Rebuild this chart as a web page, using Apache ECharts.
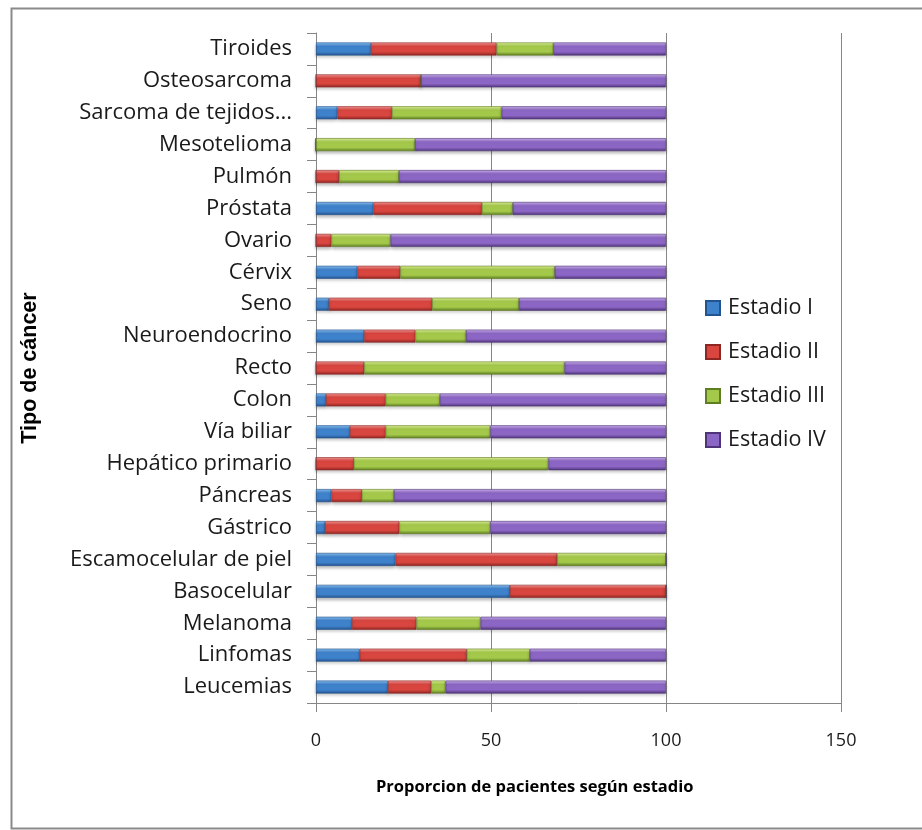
<!DOCTYPE html>
<html>
<head>
<meta charset="utf-8">
<script src="https://cdn.jsdelivr.net/npm/echarts@6/dist/echarts.min.js"></script>
<style>
  html, body { margin: 0; padding: 0; background: #fff; }
  #chart { width: 922px; height: 830px; }
</style>
</head>
<body>
<div id="chart"></div>
<script>
// Cancer types, listed bottom to top
const categories = [
  'Leucemias', 'Linfomas', 'Melanoma', 'Basocelular', 'Escamocelular de piel',
  'Gástrico', 'Páncreas', 'Hepático primario', 'Vía biliar', 'Colon', 'Recto',
  'Neuroendocrino', 'Seno', 'Cérvix', 'Ovario', 'Próstata', 'Pulmón',
  'Mesotelioma', 'Sarcoma de tejidos blandos', 'Osteosarcoma', 'Tiroides'
];

// Percentage of patients in each stage
const estadioI   = [20.6, 12.5, 10.3, 55.4, 22.7, 2.6, 4.4, 0, 9.7, 2.9, 0, 13.8, 3.7, 11.8, 0, 16.4, 0, 0, 6.1, 0, 15.7];
const estadioII  = [12.3, 30.6, 18.4, 44.6, 46.2, 21.2, 8.7, 10.8, 10.2, 17.0, 13.8, 14.6, 29.5, 12.3, 4.4, 31.0, 6.6, 0, 15.6, 30, 35.9];
const estadioIII = [4.1, 18.0, 18.3, 0, 31.1, 26.0, 9.2, 55.6, 29.9, 15.5, 57.2, 14.5, 24.8, 44.1, 16.9, 8.8, 17.1, 28.3, 31.3, 0, 16.2];
const estadioIV  = [63.0, 38.9, 53.0, 0, 0, 50.2, 77.7, 33.6, 50.2, 64.6, 29.0, 57.1, 42.0, 31.8, 78.7, 43.8, 76.3, 71.7, 47.0, 70, 32.2];

const seriesNames = ['Estadio I', 'Estadio II', 'Estadio III', 'Estadio IV'];
const xTicks = [0, 50, 100, 150];

const FONT = '"Open Sans", Lato, sans-serif';

// Bevelled bar fill: light top edge, base colour, darker bottom edge
function bevel(light, base, dark) {
  return new echarts.graphic.LinearGradient(0, 0, 0, 1, [
    { offset: 0, color: light },
    { offset: 0.3, color: base },
    { offset: 0.72, color: base },
    { offset: 1, color: dark }
  ]);
}

const palettes = [
  ['#8cc4f4', '#3f82cc', '#24548f'],
  ['#f59a98', '#d9453f', '#8e2623'],
  ['#e2f59a', '#a4c94a', '#5f7d22'],
  ['#cdb3f0', '#8c66c4', '#4f3479']
];
const legendColors = ['#3f82cc', '#d9453f', '#a4c94a', '#8c66c4'];

const dataSets = [estadioI, estadioII, estadioIII, estadioIV];

const series = dataSets.map((vals, i) => ({
  name: seriesNames[i],
  type: 'bar',
  stack: 'total',
  barWidth: 13,
  data: vals,
  itemStyle: {
    color: bevel(palettes[i][0], palettes[i][1], palettes[i][2]),
    borderColor: palettes[i][2],
    borderWidth: 0.6,
    shadowColor: 'rgba(0,0,0,0.25)',
    shadowBlur: 3,
    shadowOffsetY: 2
  }
}));

const chart = echarts.init(document.getElementById('chart'), null, { renderer: 'canvas' });

chart.setOption({
  animation: false,
  backgroundColor: '#fff',
  grid: { left: 316, right: 81, top: 33, bottom: 127 },
  legend: {
    orient: 'vertical',
    left: 705,
    top: 297,
    padding: 0,
    itemWidth: 14,
    itemHeight: 14,
    itemGap: 22,
    icon: 'rect',
    data: seriesNames.map((n, i) => ({ name: n, itemStyle: { color: legendColors[i] } })),
    textStyle: { fontFamily: FONT, fontSize: 21.5, color: '#1a1a1a', padding: [0, 0, 0, 3] }
  },
  xAxis: {
    type: 'value',
    min: xTicks[0],
    max: xTicks[xTicks.length - 1],
    interval: 50,
    axisLine: { show: true, lineStyle: { color: '#868686', width: 1 } },
    axisTick: { show: true, length: 9, lineStyle: { color: '#868686' } },
    splitLine: { show: true, lineStyle: { color: '#868686', width: 1 } },
    axisLabel: { fontFamily: FONT, fontSize: 18, color: '#1a1a1a', margin: 29 }
  },
  yAxis: {
    type: 'category',
    data: categories,
    name: 'Tipo de cáncer',
    nameLocation: 'middle',
    nameGap: 275,
    nameRotate: 90,
    nameTextStyle: { fontFamily: '"Liberation Sans", Arial, sans-serif', fontSize: 21.5, fontWeight: 'bold', color: '#000' },
    axisLine: { show: true, lineStyle: { color: '#868686', width: 1 } },
    axisTick: { show: true, length: 9, alignWithLabel: false, lineStyle: { color: '#868686' } },
    axisLabel: {
      fontFamily: FONT, fontSize: 22, color: '#1a1a1a', margin: 24,
      formatter: v => (v.length > 22 ? v.slice(0, 18) + '...' : v)
    }
  },
  graphic: [
    {
      type: 'rect',
      left: 9, top: 6,
      shape: { width: 920, height: 820 },
      style: { fill: 'none', stroke: '#8a8a8a', lineWidth: 2 },
      silent: true
    },
    {
      type: 'text',
      left: 376, top: 779,
      style: {
        text: 'Proporcion de pacientes según estadio',
        font: 'bold 16.5px ' + FONT,
        fill: '#000'
      }
    }
  ],
  series: series
});
</script>
</body>
</html>
